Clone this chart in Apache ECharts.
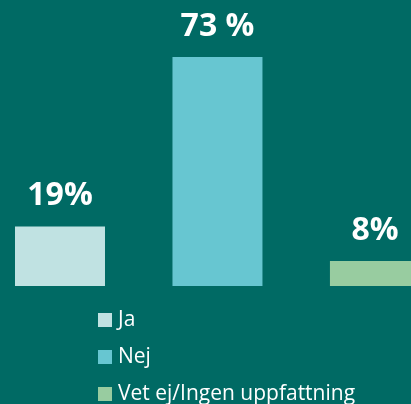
<!DOCTYPE html>
<html>
<head>
<meta charset="utf-8">
<script src="https://cdn.jsdelivr.net/npm/echarts@6/dist/echarts.min.js"></script>
<style>
  html, body { margin: 0; padding: 0; background: #006a64; }
  #main { width: 411px; height: 404px; }
</style>
</head>
<body>
<div id="main"></div>
<script>
// data
var categories = ['Ja', 'Nej', 'Vet ej/Ingen uppfattning'];
var values = [19, 73, 8];
var valueLabels = ['19%', '73 %', '8%'];

var colors = ['#c0e2e2', '#67c6d1', '#98cca0'];

var chart = echarts.init(document.getElementById('main'));

// one series per category so the legend gets three entries;
// x is the category index on a value axis so the bars can run off the right edge
var series = categories.map(function (name, i) {
  return {
    name: name,
    type: 'bar',
    barWidth: 90,
    barGap: '-100%',
    data: [[i, values[i]]],
    itemStyle: { color: colors[i] },
    label: {
      show: true,
      position: 'top',
      distance: 14,
      color: '#ffffff',
      fontFamily: 'Open Sans',
      fontWeight: 'bold',
      fontSize: 32,
      formatter: function () { return valueLabels[i]; }
    }
  };
});

var option = {
  backgroundColor: '#006a64',
  animation: false,
  grid: {
    left: 0,
    right: 0,
    top: 35,
    bottom: 118
  },
  xAxis: {
    type: 'value',
    min: -0.381,
    max: 2.229,
    show: false
  },
  yAxis: {
    type: 'value',
    min: 0,
    max: 80,
    show: false
  },
  legend: {
    orient: 'vertical',
    left: 98,
    top: 309.5,
    height: 140,
    padding: 0,
    itemWidth: 14,
    itemHeight: 14,
    itemGap: 16,
    icon: 'rect',
    textStyle: {
      color: '#ffffff',
      fontFamily: 'Open Sans',
      fontSize: 21,
      padding: [0, 0, 0, 1]
    },
    data: categories
  },
  series: series
};

chart.setOption(option);
</script>
</body>
</html>
